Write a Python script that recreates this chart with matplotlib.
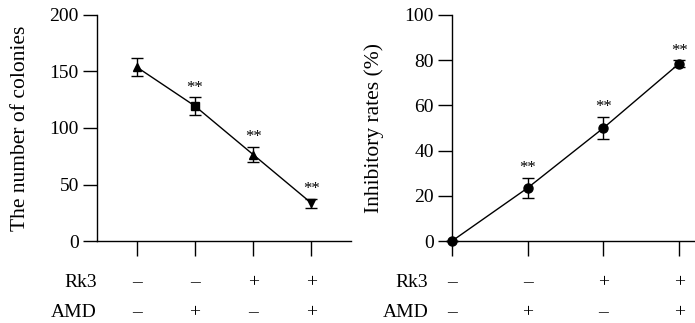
import matplotlib
matplotlib.use("Agg")
import matplotlib.pyplot as plt

plt.rcParams['font.family'] = ['Liberation Serif', 'DejaVu Serif']

groups = [0, 1, 2, 3]
rk3 = ['–', '–', '+', '+']
amd = ['–', '+', '–', '+']

colonies = [154, 119.5, 76.5, 33.5]
colonies_err = [8, 8, 7, 4]
colonies_markers = ['^', 's', '^', 'v']

inhib = [0, 23.5, 50, 78.5]
inhib_err = [0, 4.5, 5, 1.5]

sig = ['', '**', '**', '**']

fig = plt.figure(figsize=(6.95, 3.23), dpi=100)
ax1 = fig.add_axes([97 / 695, 1 - 241 / 323, 254 / 695, 226 / 323])
ax2 = fig.add_axes([452 / 695, 1 - 241 / 323, 243 / 695, 226 / 323])

FS = 14


def style(ax, xlim, ylim, yticks, ylabel, row_x):
    ax.set_xlim(*xlim)
    ax.set_ylim(*ylim)
    ax.set_yticks(yticks)
    ax.set_xticks(groups)
    ax.set_xticklabels([])
    for s in ['top', 'right']:
        ax.spines[s].set_visible(False)
    for s in ['left', 'bottom']:
        ax.spines[s].set_linewidth(1.0)
    ax.tick_params(axis='y', length=10, width=1.0, labelsize=FS, pad=3)
    ax.tick_params(axis='x', length=11, width=1.0)
    ax.set_ylabel(ylabel, fontsize=15.5)
    # Rk3 / AMD rows
    ax.annotate('Rk3', (0, 0), xycoords='axes fraction', xytext=(row_x, -33),
                textcoords='offset points', ha='right', va='baseline', fontsize=FS)
    ax.annotate('AMD', (0, 0), xycoords='axes fraction', xytext=(row_x, -54.5),
                textcoords='offset points', ha='right', va='baseline', fontsize=FS)
    for g, a, b in zip(groups, rk3, amd):
        ax.annotate(a, (g, 0), xycoords=('data', 'axes fraction'), xytext=(0, -33),
                    textcoords='offset points', ha='center', va='baseline', fontsize=FS)
        ax.annotate(b, (g, 0), xycoords=('data', 'axes fraction'), xytext=(0, -54.5),
                    textcoords='offset points', ha='center', va='baseline', fontsize=FS)


style(ax1, (-0.68, 3.68), (0, 200), [0, 50, 100, 150, 200], 'The number of colonies', 0)
style(ax2, (0, 3.21), (0, 100), [0, 20, 40, 60, 80, 100], 'Inhibitory rates (%)', -17)
ax1.yaxis.set_label_coords(-0.265, 0.5)
ax2.yaxis.set_label_coords(-0.28, 0.5)

# left panel
ax1.plot(groups, colonies, color='black', lw=1.0, zorder=2)
for g, v, e, m in zip(groups, colonies, colonies_err, colonies_markers):
    ax1.errorbar(g, v, yerr=e, fmt=m, color='black', ms=6, capsize=4, elinewidth=1.0,
                 capthick=1.0, zorder=3)
for g, v, e, s in zip(groups, colonies, colonies_err, sig):
    if s:
        ax1.annotate(s, (g, v + e), xytext=(0, 1), textcoords='offset points',
                     ha='center', va='bottom', fontsize=12)

# right panel
ax2.plot(groups, inhib, color='black', lw=1.0, zorder=2, clip_on=False)
ax2.errorbar(groups, inhib, yerr=inhib_err, fmt='o', color='black', ms=6.5, capsize=4,
             elinewidth=1.0, capthick=1.0, zorder=3, clip_on=False)
for g, v, e, s in zip(groups, inhib, inhib_err, sig):
    if s:
        ax2.annotate(s, (g, v + e), xytext=(0, 1), textcoords='offset points',
                     ha='center', va='bottom', fontsize=12)

fig.savefig('out.png', dpi=100)
